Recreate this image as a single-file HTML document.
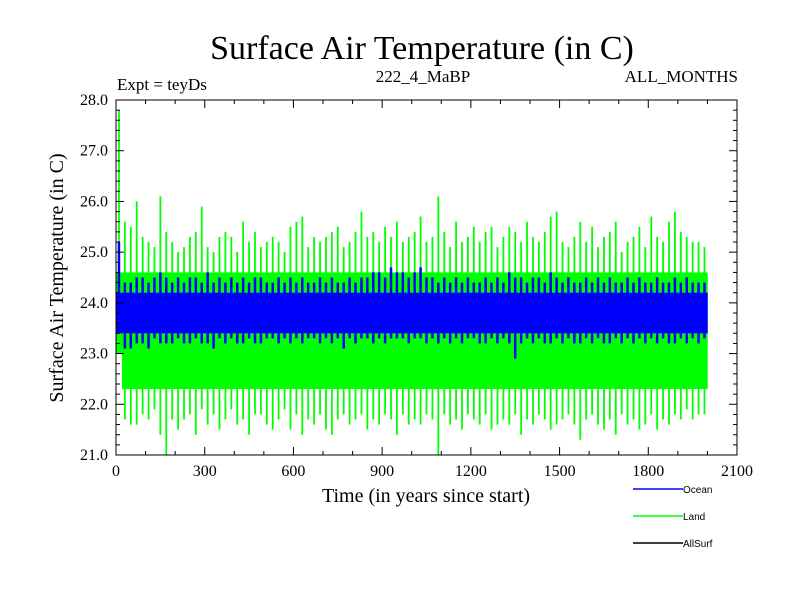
<!DOCTYPE html>
<html><head><meta charset="utf-8"><style>
body{margin:0;background:#fff;}
svg text{font-family:"Liberation Serif",serif;}
</style></head><body>
<svg id="chart" width="800" height="600" xmlns="http://www.w3.org/2000/svg">
<rect width="800" height="600" fill="#fff"/>
<text x="422" y="59" font-size="34" text-anchor="middle">Surface Air Temperature (in C)</text>
<text x="117" y="90" font-size="17">Expt = teyDs</text>
<text x="423" y="82" font-size="17" text-anchor="middle">222_4_MaBP</text>
<text x="738" y="82" font-size="17" text-anchor="end">ALL_MONTHS</text>
<g id="plot"></g>
<g id="axes"></g>
<text x="426" y="502" font-size="20" text-anchor="middle">Time (in years since start)</text>
<text transform="translate(63,278) rotate(-90)" font-size="20" text-anchor="middle">Surface Air Temperature (in C)</text>
<g>
<g><line x1="633" y1="489" x2="683" y2="489" stroke="#0000ff" stroke-width="1.5"/><text x="683" y="493" font-size="10" style="font-family:'Liberation Sans',sans-serif">Ocean</text></g>
<g><line x1="633" y1="516" x2="683" y2="516" stroke="#00ff00" stroke-width="1.5"/><text x="683" y="520" font-size="10" style="font-family:'Liberation Sans',sans-serif">Land</text></g>
<g><line x1="633" y1="543" x2="683" y2="543" stroke="#000" stroke-width="1.5"/><text x="683" y="547" font-size="10" style="font-family:'Liberation Sans',sans-serif">AllSurf</text></g>
</g>
</svg>
<script>
// per-20-year buckets, years 0..2000
const years = [];
for (let i = 0; i < 100; i++) years.push(i * 20 + 10);
const landHi = [27.8,25.6,25.5,26.0,25.3,25.2,25.1,26.1,25.4,25.2,25.0,25.1,25.3,25.4,25.9,25.1,25.0,25.3,25.4,25.3,25.0,25.6,25.2,25.4,25.1,25.2,25.3,25.2,25.0,25.5,25.6,25.7,25.1,25.3,25.2,25.3,25.4,25.5,25.1,25.2,25.4,25.8,25.3,25.4,25.2,25.5,25.3,25.6,25.2,25.3,25.4,25.7,25.2,25.3,26.1,25.4,25.1,25.6,25.2,25.3,25.5,25.2,25.4,25.5,25.1,25.3,25.5,25.4,25.2,25.6,25.3,25.2,25.4,25.7,25.8,25.2,25.1,25.3,25.6,25.2,25.5,25.1,25.3,25.4,25.6,25.0,25.2,25.3,25.5,25.1,25.7,25.3,25.2,25.6,25.8,25.4,25.3,25.2,25.2,25.1];
const landLo = [23.0,21.7,21.6,21.6,21.8,21.7,21.9,21.4,21.0,21.7,21.5,21.7,21.8,21.4,21.9,21.6,21.8,21.5,21.7,21.9,21.6,21.7,21.4,21.8,21.8,21.6,21.5,21.7,21.9,21.5,21.8,21.4,21.7,21.6,21.8,21.5,21.4,21.7,21.8,21.6,21.7,21.8,21.5,21.7,21.6,21.8,21.7,21.4,21.8,21.6,21.7,21.6,21.8,21.7,21.0,21.8,21.6,21.7,21.5,21.8,21.7,21.6,21.8,21.5,21.6,21.7,21.6,21.8,21.4,21.7,21.6,21.8,21.7,21.5,21.6,21.7,21.8,21.6,21.3,21.7,21.8,21.6,21.5,21.7,21.4,21.8,21.6,21.7,21.5,21.6,21.8,21.5,21.7,21.6,21.8,21.7,21.9,21.7,21.8,21.8];
const oceanHi = [25.2,24.4,24.4,24.5,24.5,24.4,24.5,24.6,24.5,24.4,24.5,24.4,24.5,24.5,24.4,24.6,24.4,24.5,24.4,24.5,24.4,24.5,24.4,24.5,24.5,24.4,24.4,24.5,24.4,24.5,24.4,24.5,24.4,24.4,24.5,24.4,24.5,24.4,24.4,24.5,24.4,24.5,24.5,24.6,24.6,24.5,24.7,24.6,24.6,24.5,24.6,24.7,24.5,24.5,24.4,24.5,24.4,24.5,24.4,24.5,24.4,24.4,24.5,24.4,24.5,24.4,24.6,24.5,24.5,24.4,24.5,24.5,24.4,24.6,24.5,24.4,24.5,24.4,24.4,24.5,24.4,24.5,24.4,24.5,24.4,24.4,24.5,24.4,24.5,24.4,24.4,24.5,24.4,24.4,24.5,24.4,24.5,24.4,24.4,24.4];
const oceanLo = [23.6,23.1,23.1,23.2,23.2,23.1,23.3,23.2,23.2,23.2,23.3,23.2,23.2,23.3,23.2,23.2,23.1,23.3,23.2,23.3,23.2,23.2,23.3,23.2,23.2,23.3,23.3,23.2,23.3,23.2,23.3,23.2,23.3,23.3,23.2,23.3,23.2,23.3,23.1,23.3,23.2,23.3,23.3,23.2,23.3,23.2,23.3,23.3,23.3,23.2,23.3,23.3,23.2,23.3,23.2,23.3,23.2,23.3,23.2,23.3,23.3,23.2,23.2,23.3,23.2,23.3,23.2,22.9,23.2,23.3,23.2,23.3,23.2,23.2,23.3,23.2,23.3,23.2,23.2,23.3,23.2,23.3,23.2,23.2,23.3,23.2,23.3,23.2,23.3,23.2,23.3,23.2,23.3,23.2,23.2,23.3,23.2,23.3,23.2,23.3];
const landCoreHi = 24.6, landCoreLo = 22.3, oceanCoreHi = 24.2, oceanCoreLo = 23.4;
const xTicks = [0,300,600,900,1200,1500,1800,2100];
const yTicks = [21,22,23,24,25,26,27,28];

const X0=116, X1=737, Y0=455, Y1=100;
const xs = v => X0 + (v/2100)*(X1-X0);
const ys = v => Y0 - (v-21)/7*(Y0-Y1);
const NS="http://www.w3.org/2000/svg";
const plot=document.getElementById('plot'), axes=document.getElementById('axes');
function mk(tag, attrs, parent){const e=document.createElementNS(NS,tag);for(const k in attrs)e.setAttribute(k,attrs[k]);parent.appendChild(e);return e;}
const bw = xs(20)-xs(0);
years.forEach((yr,i)=>{
  const x=xs(yr);
  const c=mk('rect',{x:x-bw/2,y:ys(Math.min(landCoreHi,landHi[i])),width:bw+0.3,height:ys(Math.max(landCoreLo,landLo[i]))-ys(Math.min(landCoreHi,landHi[i])),fill:'#00ff00'},plot);
  
  
  const l=mk('line',{x1:x,x2:x,y1:ys(landHi[i]),y2:ys(landLo[i]),stroke:'#00ff00','stroke-width':1.8},plot);
  
  
});
years.forEach((yr,i)=>{
  const x=xs(yr);
  const c=mk('rect',{x:x-bw/2,y:ys(oceanCoreHi),width:bw+0.3,height:ys(oceanCoreLo)-ys(oceanCoreHi),fill:'#0000ff'},plot);
  
  
  const l=mk('line',{x1:x,x2:x,y1:ys(oceanHi[i]),y2:ys(oceanLo[i]),stroke:'#0000ff','stroke-width':2.5},plot);
  
  
});
const fr=mk('rect',{x:X0,y:Y1,width:X1-X0,height:Y0-Y1,fill:'none',stroke:'#000','stroke-width':1},axes);


for(let v=0;v<=2100;v+=100){const maj=v%300===0;const x=xs(v);
  mk('line',{x1:x,x2:x,y1:Y0,y2:Y0-(maj?8:4),stroke:'#000'},axes);
  mk('line',{x1:x,x2:x,y1:Y1,y2:Y1+(maj?8:4),stroke:'#000'},axes);}
for(let k=0;k<=35;k++){const v=21+k*0.2;const maj=k%5===0;const y=ys(v);
  mk('line',{x1:X0,x2:X0+(maj?8:4),y1:y,y2:y,stroke:'#000'},axes);
  mk('line',{x1:X1,x2:X1-(maj?8:4),y1:y,y2:y,stroke:'#000'},axes);}
xTicks.forEach(v=>{const t=mk('text',{x:xs(v),y:Y0+21,'font-size':16,'text-anchor':'middle'},axes);t.textContent=v;
  
  });
yTicks.forEach(v=>{const t=mk('text',{x:X0-8,y:ys(v)+5,'font-size':16,'text-anchor':'end'},axes);t.textContent=v.toFixed(1);
  
  });
</script>
</body></html>
